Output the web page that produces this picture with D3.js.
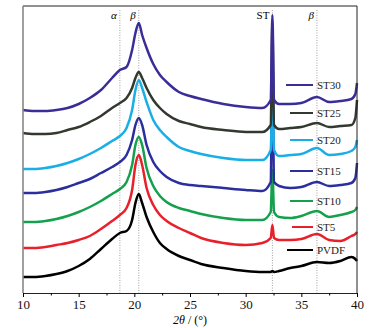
<!DOCTYPE html>
<html>
  <head>
    <meta charset="UTF-8">
    <style>
      body {
        margin: 0;
        background: white;
        font-family: "Liberation Serif", "Times New Roman", serif;
      }
    </style>
    <script type="text/javascript" src="https://cdn.jsdelivr.net/npm/d3@7"></script>
  </head>
  <body>
    <svg id="Chart"></svg>
    <script type="text/javascript">
      // 2theta grid shared by all patterns
      let twoTheta = [10, 11, 12, 13, 14, 15, 16, 17, 18, 18.7, 19.3, 19.8, 20.1, 20.4, 20.7, 21.1, 21.7, 22.3, 22.9,
                      24, 25, 26, 28, 30, 31.5, 32.25, 32.4, 32.55, 33, 34, 35, 36.4, 37.5, 38.5, 39.5, 39.85, 40];

      // intensities (a.u., stacked as in the figure)
      let st30 = [183, 182, 182, 183, 185, 189, 195, 203, 215, 223, 226, 243, 260, 270, 258, 245, 229, 218, 211,
                  201, 197, 194, 189, 186, 185, 193, 278, 193, 189, 189, 190, 196, 191, 192, 194, 199, 210];
      let st25 = [160, 159, 159, 160, 163, 166, 171, 177, 185, 190, 195, 205, 215, 221, 215, 205, 193, 185, 179,
                  172, 169, 166, 163, 161, 161, 168, 268, 168, 164, 165, 166, 170, 166, 167, 168, 175, 193];
      let st20 = [124, 124, 125, 127, 130, 134, 139, 145, 152, 157, 165, 183, 203, 213, 205, 191, 173, 163, 156,
                  146, 142, 139, 135, 133, 133, 143, 198, 143, 137, 138, 139, 145, 138, 139, 142, 146, 153];
      let st15 = [100, 100, 101, 103, 106, 110, 114, 120, 126, 131, 138, 153, 168, 175, 168, 148, 131, 122, 116,
                  110, 108, 107, 105, 103, 102, 111, 238, 111, 107, 105, 106, 111, 107, 108, 110, 115, 130];
      let st10 = [71, 71, 72, 74, 77, 81, 86, 92, 99, 104, 111, 128, 148, 156, 148, 125, 107, 97, 91,
                  85, 82, 79, 75, 73, 73, 81, 123, 81, 76, 75, 77, 82, 76, 78, 81, 83, 86];
      let st5 = [45, 45, 46, 48, 50, 53, 57, 64, 72, 78, 85, 103, 128, 138, 128, 105, 88, 78, 72,
                 65, 60, 55, 50, 48, 50, 55, 68, 55, 53, 53, 54, 59, 53, 52, 57, 59, 61];
      let pvdf = [16, 16, 17, 19, 22, 27, 34, 44, 54, 60, 62, 73, 90, 99, 90, 76, 61, 50, 44,
                  37, 33, 29, 25, 22, 21, 21, 22, 21, 22, 25, 27, 31, 30, 32, 36, 34, 32];

      let seriesNames = ['PVDF', 'ST5', 'ST10', 'ST15', 'ST20', 'ST25', 'ST30'];
      let seriesValues = [pvdf, st5, st10, st15, st20, st25, st30];
      let seriesColors = ['#000000', '#e8202a', '#14a04c', '#2b2f9e', '#1aaee6', '#33392f', '#3a2d98'];

      // reference lines: position and label
      let refLines = [18.7, 20.4, 32.4, 36.4];
      let refLabels = ['α', 'β', 'ST', 'β'];

      let xTicks = [10, 15, 20, 25, 30, 35, 40];
      let xMinorTicks = [12.5, 17.5, 22.5, 27.5, 32.5, 37.5];

      function getConfig() {
        let width = 377;
        let height = 328;
        let margin = {top: 6, bottom: 35, left: 23, right: 20};
        let bodyWidth = width - margin.left - margin.right;
        let bodyHeight = height - margin.top - margin.bottom;
        let container = d3.select('#Chart')
          .attr('width', width)
          .attr('height', height)
        return {width, height, margin, bodyWidth, bodyHeight, container}
      }

      function getScales(config) {
        let {margin, bodyWidth, bodyHeight} = config;
        let xScale = d3.scaleLinear()
          .domain([10, 40])
          .range([margin.left, margin.left + bodyWidth])
        let yScale = d3.scaleLinear()
          .domain([0, 287])
          .range([margin.top + bodyHeight, margin.top])
        return {xScale, yScale}
      }

      function drawRefLines(scales, config) {
        let {xScale, yScale} = scales;
        let {container} = config;
        container.selectAll('.ref')
          .data(refLines)
          .enter()
          .append('line')
          .attr('x1', d => xScale(d))
          .attr('x2', d => xScale(d))
          .attr('y1', yScale(283))
          .attr('y2', yScale(0))
          .attr('stroke', '#888')
          .attr('stroke-width', 0.8)
          .attr('stroke-dasharray', '1,1.5')

        container.selectAll('.refLabel')
          .data(refLabels)
          .enter()
          .append('text')
          .attr('x', (d, i) => xScale(refLines[i]) - 3)
          .attr('y', yScale(274))
          .attr('text-anchor', 'end')
          .attr('font-size', 11)
          .attr('font-style', d => d === 'ST' ? 'normal' : 'italic')
          .text(d => d)
      }

      function drawSeries(scales, config) {
        let {xScale, yScale} = scales;
        let {container} = config;
        let line = d3.line()
          .x((d, i) => xScale(twoTheta[i]))
          .y(d => yScale(d))
          .curve(d3.curveMonotoneX)

        container.selectAll('.series')
          .data(seriesValues)
          .enter()
          .append('path')
          .attr('d', d => line(d))
          .attr('fill', 'none')
          .attr('stroke', (d, i) => seriesColors[i])
          .attr('stroke-width', 2.5)
          .attr('stroke-linejoin', 'round')
      }

      function drawAxes(scales, config) {
        let {xScale, yScale} = scales;
        let {container, margin, bodyWidth, bodyHeight} = config;
        let bottom = margin.top + bodyHeight;

        // frame
        container.append('line')
          .attr('x1', margin.left).attr('x2', margin.left + bodyWidth)
          .attr('y1', margin.top).attr('y2', margin.top)
          .attr('stroke', '#222').attr('stroke-width', 1)
        container.append('line')
          .attr('x1', margin.left + bodyWidth).attr('x2', margin.left + bodyWidth)
          .attr('y1', margin.top).attr('y2', bottom)
          .attr('stroke', '#222').attr('stroke-width', 1)
        container.append('line')
          .attr('x1', margin.left).attr('x2', margin.left)
          .attr('y1', margin.top).attr('y2', bottom)
          .attr('stroke', '#888').attr('stroke-width', 1.6)

        let axisX = d3.axisBottom(xScale)
          .tickValues(xTicks)
          .tickSize(4)
          .tickPadding(3)
          .tickFormat(d3.format('d'))
        let gx = container.append('g')
          .attr('transform', `translate(0, ${bottom})`)
          .call(axisX)
        gx.select('.domain').attr('stroke', '#222')
        gx.selectAll('text')
          .attr('font-family', '"Liberation Serif", serif')
          .attr('font-size', 13)
          .attr('fill', '#111')

        let axisMinor = d3.axisBottom(xScale)
          .tickValues(xMinorTicks)
          .tickSize(2.5)
          .tickFormat('')
        container.append('g')
          .attr('transform', `translate(0, ${bottom})`)
          .call(axisMinor)
          .select('.domain').remove()

        let title = container.append('text')
          .attr('x', xScale(25))
          .attr('y', 324)
          .attr('text-anchor', 'middle')
          .attr('font-size', 12)
        title.append('tspan').attr('font-style', 'italic').text('2θ')
        title.append('tspan').text(' / (°)')
      }

      function drawLegend(config) {
        let {container} = config;
        // legend rows from bottom (PVDF) to top (ST30)
        let legendY = [250, 227, 201, 171, 140, 113, 85];
        let lineStart = [287, 292, 290, 290, 290, 290, 286];
        let legend = container.selectAll('.legend')
          .data(seriesNames)
          .enter()
          .append('g')
        legend.append('line')
          .attr('x1', (d, i) => lineStart[i])
          .attr('x2', 313)
          .attr('y1', (d, i) => legendY[i])
          .attr('y2', (d, i) => legendY[i])
          .attr('stroke', (d, i) => seriesColors[i])
          .attr('stroke-width', 2)
        legend.append('text')
          .attr('x', 317)
          .attr('y', (d, i) => legendY[i] + 4)
          .attr('font-size', 11)
          .attr('fill', '#222')
          .text(d => d)
      }

      function drawChart() {
        let config = getConfig();
        let scales = getScales(config);
        drawRefLines(scales, config);
        drawSeries(scales, config);
        drawAxes(scales, config);
        drawLegend(config);
      }

      drawChart();
    </script>
  </body>
</html>
